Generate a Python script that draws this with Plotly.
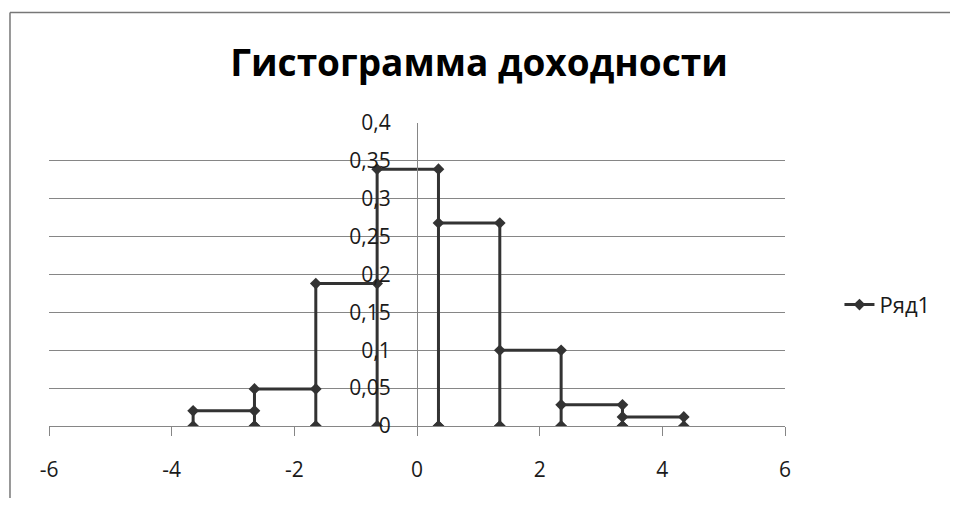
import plotly.graph_objects as go

# Data
bin_edges = [-3.65, -2.65, -1.65, -0.65, 0.35, 1.35, 2.35, 3.35, 4.35]
heights = [0.02, 0.049, 0.188, 0.339, 0.268, 0.1, 0.028, 0.012]
x_tick_vals = [-6, -4, -2, 0, 2, 4, 6]
x_tick_text = ["-6", "-4", "-2", "0", "2", "4", "6"]
series_name = "Ряд1"
title_text = "Гистограмма доходности"

# Build the step path: (x_i,0),(x_i,h),(x_{i+1},h),(x_{i+1},0)
xs, ys = [], []
for i, h in enumerate(heights):
    a, b = bin_edges[i], bin_edges[i + 1]
    xs += [a, a, b, b]
    ys += [0, h, h, 0]

FONT = "Open Sans"
GRAY = "#868686"
DARK = "#333333"
FRAME = dict(color="#777777", width=1.5)

fig = go.Figure()
fig.add_trace(go.Scatter(
    x=xs, y=ys, mode="lines+markers", name=series_name,
    line=dict(color=DARK, width=3),
    marker=dict(symbol="diamond", size=9, color=DARK),
))

fig.update_layout(
    width=942, height=490,
    margin=dict(l=41, r=165, t=115, b=72),
    paper_bgcolor="#ffffff", plot_bgcolor="#ffffff",
    separators=", ",
    font=dict(family=FONT, size=20, color="#1a1a1a"),
    title=dict(text=title_text, x=0.5, y=0.888, xref="container", yref="container",
               xanchor="center", yanchor="middle",
               font=dict(family=FONT, size=37, color="#000000", weight="bold")),
    showlegend=True,
    legend=dict(x=1.074, y=0.40, xanchor="left", yanchor="middle",
                bgcolor="rgba(0,0,0,0)", font=dict(size=22)),
    xaxis=dict(range=[-6, 6], tickvals=x_tick_vals, ticktext=x_tick_text,
               showgrid=False, zeroline=False, showline=True, linecolor=GRAY, linewidth=1,
               ticks="outside", ticklen=9, tickcolor=GRAY, ticklabelstandoff=16,
               tickfont=dict(size=21)),
    yaxis=dict(range=[0, 0.4], tick0=0, dtick=0.05, anchor="free", position=0.5,
               showgrid=True, gridcolor=GRAY, gridwidth=1, zeroline=False,
               showline=True, linecolor=GRAY, linewidth=1, ticks="",
               ticklabelstandoff=22, tickfont=dict(size=21)),
    shapes=[
        dict(type="line", xref="paper", yref="paper",
             x0=-0.053, x1=1.4, y0=1.365, y1=1.365, line=FRAME, layer="below"),
        dict(type="line", xref="paper", yref="paper",
             x0=-0.053, x1=-0.053, y0=-0.4, y1=1.365, line=FRAME, layer="below"),
    ],
)

fig.write_html("out.html")
